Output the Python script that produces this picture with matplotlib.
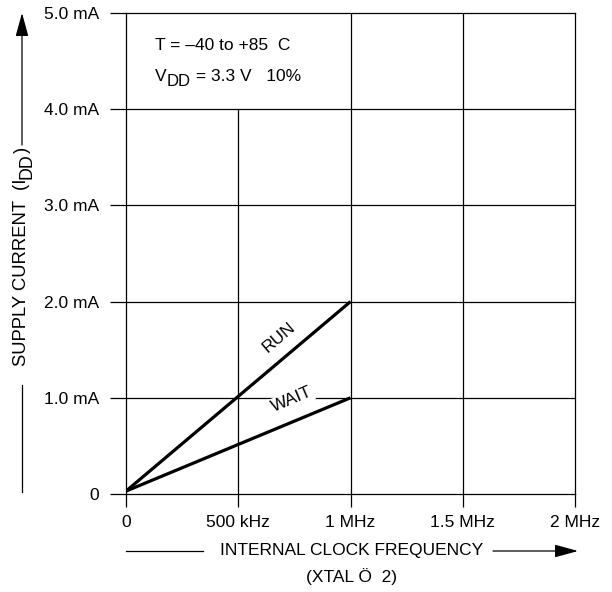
import matplotlib
matplotlib.use("Agg")
import matplotlib.pyplot as plt

plt.rcParams['font.family'] = ['Liberation Sans', 'DejaVu Sans']

# data (frequency in kHz, current in mA)
freq = [0, 1000]
run_ma = [0.03, 2.0]
wait_ma = [0.03, 1.0]

x_ticks = [0, 500, 1000, 1500, 2000]
x_labels = ['0', '500 kHz', '1 MHz', '1.5 MHz', '2 MHz']
y_ticks = [0, 1, 2, 3, 4, 5]
y_labels = ['0', '1.0 mA', '2.0 mA', '3.0 mA', '4.0 mA', '5.0 mA']

FS = 12.5
SUB = 12
ARROW = '-|>,head_length=0.8,head_width=0.22'

fig = plt.figure(figsize=(6.12, 5.92), dpi=100)
ax = fig.add_axes([126 / 612, 98 / 592, 449 / 612, 481 / 592])
ax.set_xlim(0, 2000)
ax.set_ylim(0, 5)

# grid lines (the one at 500 kHz stops under the note box)
for x in x_ticks[1:-1]:
    top = 4 if x == 500 else 5
    ax.plot([x, x], [0, top], color='black', lw=0.9, zorder=1)
for y in y_ticks[1:-1]:
    ax.plot([0, 2000], [y, y], color='black', lw=0.9, zorder=1)

for s in ax.spines.values():
    s.set_linewidth(0.9)

ax.set_xticks(x_ticks)
ax.set_xticklabels(x_labels)
ax.set_yticks(y_ticks)
ax.set_yticklabels(y_labels)
ax.tick_params(axis='x', length=9, width=0.9, pad=6, labelsize=FS)
ax.tick_params(axis='y', length=11.5, width=0.9, pad=8, labelsize=FS)

ax.plot(freq, run_ma, color='black', lw=2.3, solid_capstyle='butt', zorder=3)
ax.plot(freq, wait_ma, color='black', lw=2.3, solid_capstyle='butt', zorder=3)

ax.text(680, 1.63, 'RUN', rotation=40.6, ha='center', va='center', fontsize=FS)
ax.text(737, 0.98, 'WAIT', rotation=23.2, ha='center', va='center', fontsize=FS,
        bbox=dict(facecolor='white', edgecolor='none', pad=1))

# note box
ax.text(130, 4.665, 'T = \u201340 to +85  C', fontsize=FS, va='center')
t_v = ax.text(130, 4.335, 'V', fontsize=FS, va='center')
t_dd = ax.annotate('DD', xy=(1, 0.5), xycoords=t_v, xytext=(0, -3.5), textcoords='offset points',
                   fontsize=SUB, ha='left', va='center')
ax.annotate(' = 3.3 V   10%', xy=(1, 0.5), xycoords=t_dd, xytext=(0, 3.5),
            textcoords='offset points', fontsize=FS, ha='left', va='center')

# y axis title with arrow
t_y = fig.text(22 / 612, 1 - 366 / 592, 'SUPPLY CURRENT  (I', rotation=90,
               ha='center', va='bottom', fontsize=13.3)
t_ysub = plt.annotate('DD', xy=(0.5, 1), xycoords=t_y, xytext=(3.5, 0), textcoords='offset points',
                      rotation=90, ha='center', va='bottom', fontsize=12.8)
plt.annotate(')', xy=(0.5, 1), xycoords=t_ysub, xytext=(-3.5, 0), textcoords='offset points',
             rotation=90, ha='center', va='bottom', fontsize=13.3)
fig.add_artist(plt.Line2D([22 / 612, 22 / 612], [1 - 385 / 592, 1 - 492 / 592],
                          color='black', lw=0.9))
ax.annotate('', xy=(22 / 612, 1 - 13 / 592), xytext=(22 / 612, 1 - 145 / 592),
            xycoords='figure fraction', textcoords='figure fraction',
            arrowprops=dict(arrowstyle=ARROW, color='black', lw=0.9, mutation_scale=18,
                            shrinkA=0, shrinkB=0))

# x axis title with arrow
fig.text(352 / 612, 1 - 551 / 592, 'INTERNAL CLOCK FREQUENCY', ha='center', va='center',
         fontsize=FS)
fig.text(352 / 612, 1 - 577 / 592, '(XTAL \u00d6  2)', ha='center', va='center', fontsize=FS)
fig.add_artist(plt.Line2D([126 / 612, 203 / 612], [1 - 551 / 592, 1 - 551 / 592],
                          color='black', lw=0.9))
ax.annotate('', xy=(578 / 612, 1 - 551 / 592), xytext=(493 / 612, 1 - 551 / 592),
            xycoords='figure fraction', textcoords='figure fraction',
            arrowprops=dict(arrowstyle=ARROW, color='black', lw=0.9, mutation_scale=18,
                            shrinkA=0, shrinkB=0))

fig.savefig('out.png', dpi=100)
